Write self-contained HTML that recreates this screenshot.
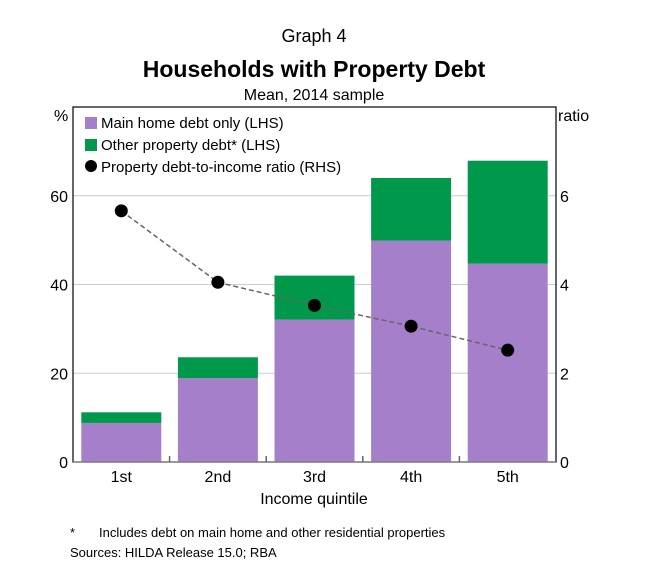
<!DOCTYPE html>
<html><head><meta charset="utf-8"><style>
body{margin:0;background:#fff;font-family:"Liberation Sans",sans-serif}
svg text{font-family:"Liberation Sans",sans-serif;fill:#000}
</style></head><body>
<svg width="653" height="576">
<text x="314" y="42" font-size="18" text-anchor="middle">Graph 4</text>
<text x="314" y="77" font-size="23" font-weight="bold" text-anchor="middle">Households with Property Debt</text>
<text x="314" y="100" font-size="16" text-anchor="middle">Mean, 2014 sample</text>
<text x="54" y="121" font-size="16">%</text>
<text x="558" y="121" font-size="16">ratio</text>
<g id="grid"></g><g id="bars"></g><g id="line"></g>
<rect x="73" y="107" width="483" height="355" fill="none" stroke="#000" stroke-width="1.2"/>
<line x1="73" y1="462" x2="556" y2="462" stroke="#888" stroke-width="1.5"/>
<g id="ticks"></g>
<g>
<rect x="85" y="117" width="12" height="12" fill="#a57fc9"/>
<text x="101" y="128" font-size="15">Main home debt only (LHS)</text>
<rect x="85" y="139" width="12" height="12" fill="#00994c"/>
<text x="101" y="150" font-size="15">Other property debt* (LHS)</text>
<circle cx="91" cy="166" r="6" fill="#000"/>
<text x="101" y="172" font-size="15">Property debt-to-income ratio (RHS)</text>
</g>
<text x="314" y="504" font-size="16" text-anchor="middle">Income quintile</text>
<text x="70" y="537" font-size="13">*</text>
<text x="99" y="537" font-size="13">Includes debt on main home and other residential properties</text>
<text x="70" y="557" font-size="13">Sources:  HILDA Release 15.0; RBA</text>
</svg>
<script>
const categories=["1st","2nd","3rd","4th","5th"];
const mainHome=[8.8,18.9,32.1,49.9,44.7];
const otherProperty=[2.4,4.7,9.9,14.1,23.2];
const ratio=[5.66,4.05,3.53,3.06,2.52];
const leftTicks=[0,20,40,60];
const rightTicks=[0,2,4,6];
const NS="http://www.w3.org/2000/svg";
const x0=73,x1=556,yb=462,yt=107;
const yL=v=>yb-(v/80)*(yb-yt);
const yR=v=>yb-(v/8)*(yb-yt);
const cw=(x1-x0)/categories.length;
const cx=i=>x0+cw*(i+0.5);
function mk(tag,attrs,parent){const e=document.createElementNS(NS,tag);for(const k in attrs)e.setAttribute(k,attrs[k]);document.getElementById(parent).appendChild(e);return e;}
leftTicks.forEach((t,i)=>{
 if(t>0){const g=mk('line',{x1:x0,x2:x1,y1:yL(t),y2:yL(t),stroke:'#ccc','stroke-width':1},'grid');
 
 }
 const a=mk('text',{x:x0-5,y:yL(t)+6,'font-size':16,'text-anchor':'end'},'ticks');a.textContent=t;
 
 
 const b=mk('text',{x:x1+4,y:yR(rightTicks[i])+6,'font-size':16},'ticks');b.textContent=rightTicks[i];
 
 
});
categories.forEach((c,i)=>{
 const bw=80,bx=cx(i)-bw/2;
 const p=mk('rect',{x:bx,y:yL(mainHome[i]),width:bw,height:yb-yL(mainHome[i]),fill:'#a57fc9'},'bars');
 
 
 const g=mk('rect',{x:bx,y:yL(mainHome[i]+otherProperty[i]),width:bw,height:yL(mainHome[i])-yL(mainHome[i]+otherProperty[i]),fill:'#00994c'},'bars');
 
 
 const l=mk('text',{x:cx(i),y:482,'font-size':16,'text-anchor':'middle'},'ticks');l.textContent=c;
 
 
 if(i>0){const t=mk('line',{x1:x0+cw*i,x2:x0+cw*i,y1:yb,y2:yb-6,stroke:'#666','stroke-width':1.5},'ticks');
 
 }
});
const pl=mk('polyline',{points:ratio.map((v,i)=>cx(i)+','+yR(v)).join(' '),fill:'none',stroke:'#666','stroke-width':1.5,'stroke-dasharray':'5,3'},'line');


ratio.forEach((v,i)=>{const d=mk('circle',{cx:cx(i),cy:yR(v),r:6.5,fill:'#000'},'line');
 
 });
</script>
</body></html>
